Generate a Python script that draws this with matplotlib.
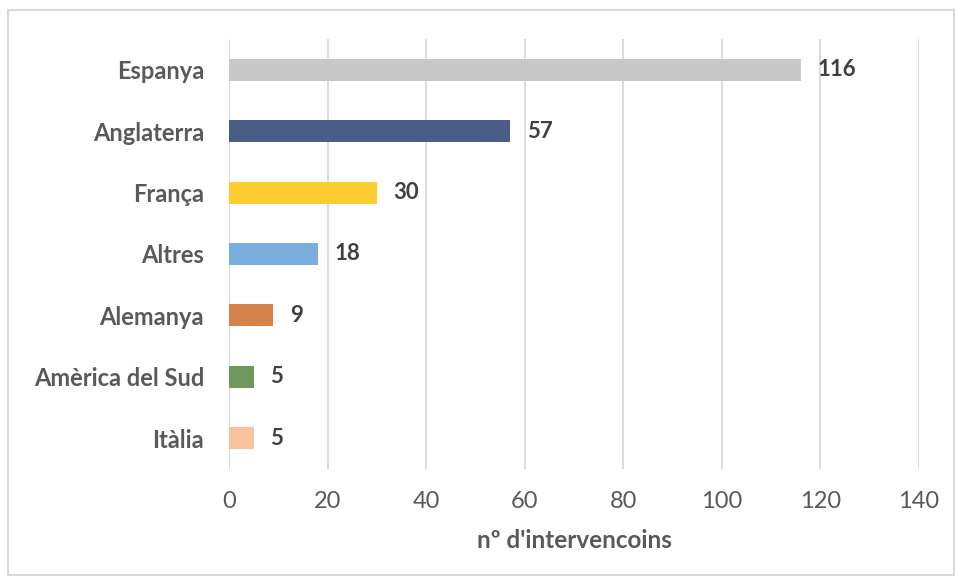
import matplotlib.pyplot as plt
from matplotlib.patches import Rectangle

plt.rcParams['font.family'] = ['Lato', 'DejaVu Sans']

countries = ["Espanya", "Anglaterra", "França", "Altres", "Alemanya", "Amèrica del Sud", "Itàlia"]
counts = [116, 57, 30, 18, 9, 5, 5]
colors = ["#C8C8C8", "#4A5E85", "#FDCD2F", "#7AAEDE", "#D4824A", "#70985A", "#F6C39E"]

fig = plt.figure(figsize=(9.55, 5.81), dpi=100)
ax = fig.add_axes([0.2398, 0.1933, 0.7225, 0.7391])

# figure border
fig.patches.append(Rectangle((8 / 955, 6 / 581), 946 / 955, 565 / 581, transform=fig.transFigure,
                             fill=False, edgecolor="#D9D9D9", linewidth=1.5))

ypos = range(len(countries))
ax.barh(ypos, counts, height=0.36, color=colors, zorder=3)
ax.set_ylim(len(countries) - 0.5, -0.5)
ax.set_xlim(0, 140)
ax.set_xticks(range(0, 141, 20))
ax.set_yticks(list(ypos))
ax.set_yticklabels(countries, fontsize=17, fontweight="bold", color="#595959")
ax.tick_params(axis="x", labelsize=17, labelcolor="#595959", length=0, pad=16)
ax.tick_params(axis="y", length=0, pad=18)

ax.grid(axis="x", color="#D9D9D9", linewidth=1.3, zorder=0)
for s in ax.spines.values():
    s.set_visible(False)

for y, v in zip(ypos, counts):
    ax.text(v + 3.4, y, str(v), va="center", ha="left", fontsize=16, fontweight="bold", color="#404040")

ax.set_xlabel("nº d'intervencoins", fontsize=17.5, fontweight="bold", color="#595959", labelpad=12)

fig.savefig("out.png", dpi=100)
